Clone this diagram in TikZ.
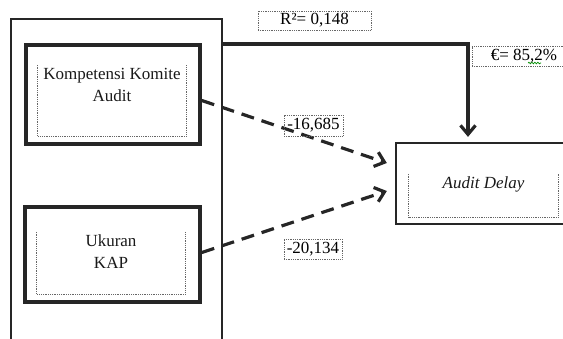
\documentclass[tikz,border=0pt]{standalone}
\usepackage{fontspec}
\setmainfont{Liberation Serif}
\usetikzlibrary{arrows.meta,positioning,calc,decorations.pathmorphing}

\begin{document}
\begin{tikzpicture}[
    x=1pt, y=-1pt,
    font=\fontsize{17}{22}\selectfont,
    >={Straight Barb[length=9pt,width=15pt]},
    varbox/.style={draw=black!85, line width=3.6pt, minimum width=174pt, minimum height=99pt},
    dotbox/.style={minimum width=148pt, minimum height=71pt, inner sep=0pt},
    dotline/.style={draw=black!60, densely dotted, line width=0.8pt},
    numbox/.style={draw=black!60, densely dotted, line width=0.8pt, inner sep=0pt, minimum height=19pt},
    vartext/.style={anchor=north, inner sep=0pt, align=center, text=black!90},
    dasharrow/.style={->, line width=3.2pt, draw=black!85, dash pattern=on 13pt off 8pt},
    mainarrow/.style={->, line width=3.2pt, draw=black!85}
]

    % Frame of the picture
    \useasboundingbox (0,0) rectangle (563,338);
    \clip (0,0) rectangle (563,338);

    % Large box round the independent variables
    \node[draw=black!85, line width=2pt, minimum width=211pt, minimum height=342pt] (outer) at (116.5,190) {};

    % Kompetensi Komite Audit
    \node[varbox] (kka) at (113,94.5) {};
    \node[dotbox] (kka-in) at (112,100.5) {};
    \draw[dotline] (kka-in.north west) |- (kka-in.south east) -- (kka-in.north east);
    \node[vartext] (kka-txt) at ([yshift=-3pt]kka-in.north) {Kompetensi Komite\\Audit};

    % Ukuran KAP
    \node[varbox, minimum width=175pt, minimum height=95pt] (kap) at (112.5,254.5) {};
    \node[dotbox, minimum height=62pt] (kap-in) at (111,263) {};
    \draw[dotline] (kap-in.north west) |- (kap-in.south east) -- (kap-in.north east);
    \node[vartext] (kap-txt) at ([yshift=-3pt]kap-in.north) {Ukuran\\KAP};

    % Audit Delay
    \node[draw=black!85, line width=2.3pt, minimum width=184pt, minimum height=81pt] (ad) at (488,183.5) {};
    \node[dotbox, minimum width=149pt, minimum height=43pt] (ad-in) at (483.5,195.5) {};
    \draw[dotline] (ad-in.north west) |- (ad-in.south east) -- (ad-in.north east);
    \node[vartext] (ad-txt) at ([yshift=-3pt]ad-in.north) {\itshape Audit Delay};

    % Simultaneous path
    \coordinate (bend) at (468,44);
    \draw[mainarrow] (outer.east |- bend) -- (bend) -- ([yshift=5pt]bend |- ad.north);

    % Partial paths
    \draw[dasharrow] ([yshift=-6pt]kka.east) -- ([xshift=-8pt,yshift=20.5pt]ad.west);
    \draw[dasharrow] ([yshift=2pt]kap.east) -- ([xshift=-8pt,yshift=-7.5pt]ad.west);

    % Coefficients
    \node[numbox, minimum width=113pt] (r2) at (314.5,20.5) {R²= 0,148};
    \node[numbox, minimum width=104pt, minimum height=20pt] (eps) at (524,56) {€= 85,2\%};
    \draw[green!55!black, line width=0.7pt, decorate, decoration={snake, amplitude=0.8pt, segment length=3pt}] (528,63) -- (541,63);
    \node[numbox, minimum width=59pt, minimum height=21pt] (b1) at (313.5,125.5) {-16,685};
    \node[numbox, minimum width=58pt, minimum height=20pt] (b2) at (313,249) {-20,134};

\end{tikzpicture}
\end{document}
